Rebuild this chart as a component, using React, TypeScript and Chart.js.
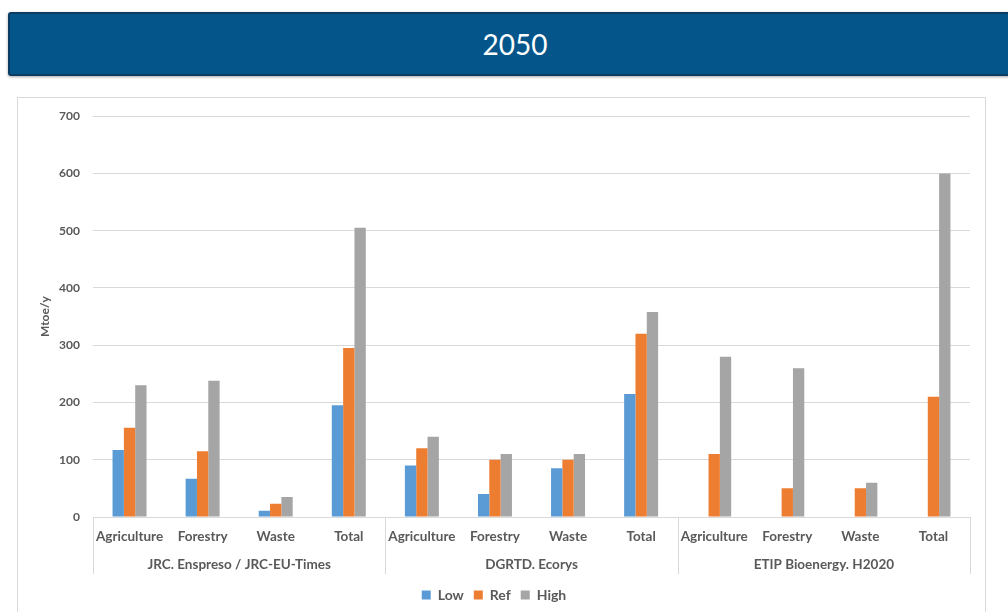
import { useEffect, useRef } from "react";
import { Chart, registerables } from "chart.js";

Chart.register(...registerables);

// Sector categories, repeated for each study
const categories = [
  "Agriculture", "Forestry", "Waste", "Total",
  "Agriculture", "Forestry", "Waste", "Total",
  "Agriculture", "Forestry", "Waste", "Total",
];

// Study groups on the second axis level (4 categories each)
const groups = ["JRC. Enspreso / JRC-EU-Times", "DGRTD. Ecorys", "ETIP Bioenergy. H2020"];

// Biomass potential in 2050, Mtoe/y
const lowValues = [117, 67, 11, 195, 90, 40, 85, 215, null, null, null, null];
const refValues = [156, 115, 23, 295, 120, 100, 100, 320, 110, 50, 50, 210];
const highValues = [230, 238, 35, 505, 140, 110, 110, 358, 280, 260, 60, 600];

const yMin = 0;
const yMax = 700;
const yStep = 100;

const FONT = "Lato, 'Open Sans', 'Noto Sans', sans-serif";
const LABEL_COLOR = "#595959";
const GRID_COLOR = "#d9d9d9";

// Draws the study group row under the category labels, with separators
const groupAxisPlugin = {
  id: "groupAxis",
  afterDraw(chart: any) {
    const x = chart.scales.x;
    const ctx = chart.ctx;
    const perGroup = categories.length / groups.length;
    const w = (x.right - x.left) / categories.length;
    ctx.save();
    ctx.strokeStyle = GRID_COLOR;
    ctx.lineWidth = 1;
    for (let k = 0; k <= groups.length; k++) {
      const px = Math.round(x.left + k * perGroup * w) + 0.5;
      ctx.beginPath();
      ctx.moveTo(px, x.top);
      ctx.lineTo(px, x.top + 57);
      ctx.stroke();
    }
    ctx.fillStyle = LABEL_COLOR;
    ctx.font = `bold 13.5px ${FONT}`;
    ctx.textAlign = "center";
    ctx.textBaseline = "middle";
    groups.forEach((g, i) => {
      const cx = x.left + (i + 0.5) * perGroup * w;
      ctx.fillText(g, cx, x.top + 48);
    });
    ctx.restore();
  },
};

export default function App() {
  const canvasRef = useRef<HTMLCanvasElement | null>(null);

  useEffect(() => {
    if (!canvasRef.current) return;
    const chart = new Chart(canvasRef.current, {
      type: "bar",
      data: {
        labels: categories,
        datasets: [
          { label: "Low", data: lowValues, backgroundColor: "#5B9BD5" },
          { label: "Ref", data: refValues, backgroundColor: "#ED7D31" },
          { label: "High", data: highValues, backgroundColor: "#A5A5A5" },
        ],
      },
      options: {
        animation: false,
        responsive: true,
        maintainAspectRatio: false,
        devicePixelRatio: 1,
        datasets: {
          bar: { categoryPercentage: 0.465, barPercentage: 1.0 },
        },
        layout: { padding: { left: 0, right: 15, top: 4, bottom: 0 } },
        plugins: {
          tooltip: { enabled: false },
          legend: {
            position: "bottom",
            labels: {
              color: LABEL_COLOR,
              font: { family: FONT, size: 14, weight: "bold" },
              boxWidth: 9,
              boxHeight: 9,
              padding: 10,
            },
          },
        },
        scales: {
          x: {
            grid: { display: false, drawTicks: false },
            border: { display: true, color: GRID_COLOR },
            ticks: {
              color: LABEL_COLOR,
              font: { family: FONT, size: 13.5, weight: "bold" },
              padding: 12,
              maxRotation: 0,
              autoSkip: false,
            },
            afterFit(scale: any) {
              scale.height = 61;
            },
          },
          y: {
            min: yMin,
            max: yMax,
            grid: { color: GRID_COLOR, drawTicks: false },
            border: { display: false },
            ticks: {
              stepSize: yStep,
              color: LABEL_COLOR,
              font: { family: FONT, size: 12, weight: "bold" },
              padding: 13,
            },
            title: {
              display: true,
              text: "Mtoe/y",
              color: LABEL_COLOR,
              font: { family: FONT, size: 12, weight: "bold" },
              padding: { top: 20, bottom: 0 },
            },
            afterFit(scale: any) {
              scale.width = 75;
            },
          },
        },
      },
      plugins: [groupAxisPlugin],
    });
    return () => chart.destroy();
  }, []);

  return (
    <div
      style={{
        position: "fixed",
        left: 0,
        top: 0,
        width: 1008,
        height: 612,
        background: "#ffffff",
        overflow: "hidden",
        fontFamily: FONT,
      }}
    >
      <div
        style={{
          position: "absolute",
          left: 8,
          top: 12,
          width: 1010,
          height: 60,
          background: "#03558A",
          border: "2px solid #0c3c62",
          borderRadius: 3,
          boxShadow: "0 1px 3px rgba(0,0,0,0.35)",
          color: "#ffffff",
          fontSize: 28,
          display: "flex",
          alignItems: "center",
          justifyContent: "center",
        }}
      >
        2050
      </div>
      <div
        style={{
          position: "absolute",
          left: 17,
          top: 97,
          width: 967,
          height: 530,
          border: `1px solid ${GRID_COLOR}`,
        }}
      >
        <div style={{ position: "absolute", left: 0, top: -2, width: 967, height: 516 }}>
          <canvas ref={canvasRef} />
        </div>
      </div>
    </div>
  );
}
